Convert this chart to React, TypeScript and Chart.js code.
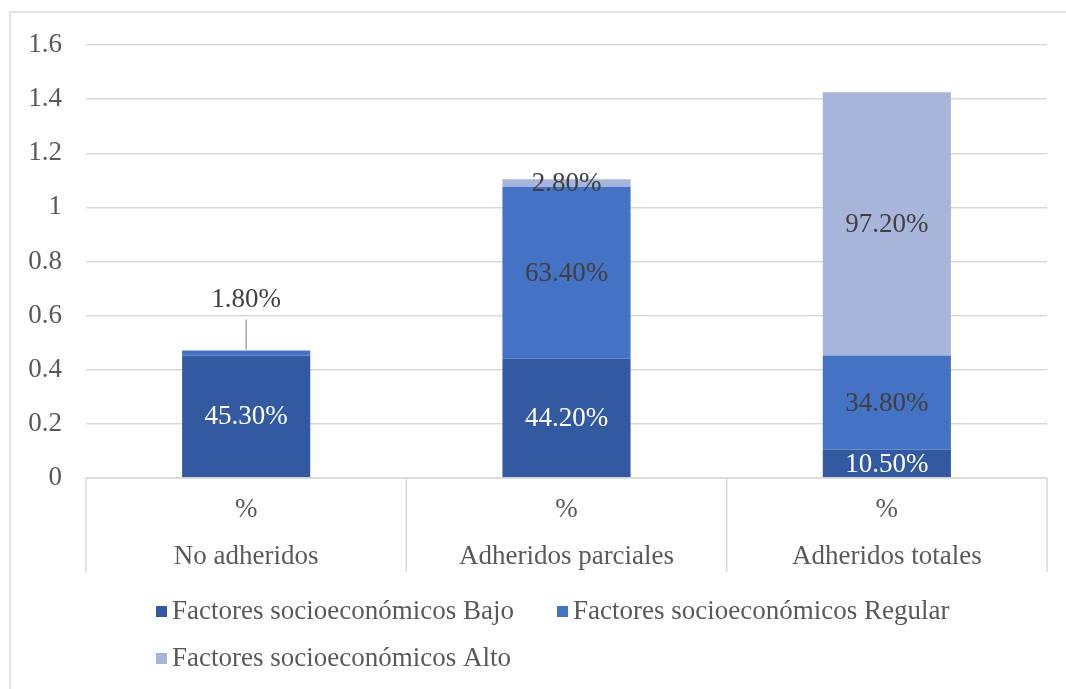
import React, { useEffect, useRef } from "react";
import { Chart, registerables } from "chart.js";

Chart.register(...registerables);

const categories = ["No adheridos", "Adheridos parciales", "Adheridos totales"];
const subLabel = "%";
const seriesNames = [
  "Factores socioeconómicos Bajo",
  "Factores socioeconómicos Regular",
  "Factores socioeconómicos Alto",
];
const bajo = [0.453, 0.442, 0.105];
const regular = [0.018, 0.634, 0.348];
const alto = [0, 0.028, 0.972];
const yMin = 0;
const yMax = 1.6;
const yStep = 0.2;

const seriesColors = ["#335AA0", "#4472C4", "#A7B5DB"];
const labelColors = ["#FFFFFF", "#404040", "#404040"];
const FONT = "'Liberation Serif', 'Times New Roman', serif";
const FS = 27;
const TEXT = "#595959";
const GRID = "#D9D9D9";

const fmtPct = (v: number) => (v * 100).toFixed(2) + "%";

const customPlugin = {
  id: "customDraw",
  beforeDraw(chart: any) {
    const ctx = chart.ctx;
    ctx.save();
    ctx.fillStyle = "#FFFFFF";
    ctx.fillRect(0, 0, chart.width, chart.height);
    ctx.strokeStyle = GRID;
    ctx.lineWidth = 1.5;
    ctx.strokeRect(10, 12, chart.width + 20, chart.height + 20);
    ctx.restore();
  },
  afterDatasetsDraw(chart: any) {
    const ctx = chart.ctx;
    const area = chart.chartArea;
    const xs = chart.scales.x;
    ctx.save();
    // x-axis box
    const step = xs.getPixelForValue(1) - xs.getPixelForValue(0);
    ctx.strokeStyle = GRID;
    ctx.lineWidth = 1.5;
    ctx.beginPath();
    ctx.moveTo(area.left, area.bottom);
    ctx.lineTo(area.right, area.bottom);
    for (let i = 0; i <= categories.length; i++) {
      const bx = xs.getPixelForValue(0) - step / 2 + i * step;
      ctx.moveTo(bx, area.bottom);
      ctx.lineTo(bx, area.bottom + 94);
    }
    ctx.stroke();
    ctx.fillStyle = TEXT;
    ctx.font = `${FS}px ${FONT}`;
    ctx.textAlign = "center";
    ctx.textBaseline = "middle";
    categories.forEach((c, i) => {
      const cx = xs.getPixelForValue(i);
      ctx.fillText(subLabel, cx, area.bottom + 32);
      ctx.fillText(c, cx, area.bottom + 79);
    });

    // data labels
    const n = chart.data.datasets.length;
    for (let d = 0; d < n; d++) {
      const meta = chart.getDatasetMeta(d);
      const vals = chart.data.datasets[d].data as number[];
      meta.data.forEach((el: any, i: number) => {
        const v = vals[i];
        if (!v) return;
        const top = Math.min(el.y, el.base);
        const bot = Math.max(el.y, el.base);
        const h = bot - top;
        let above = 0;
        for (let k = d + 1; k < n; k++) above += (chart.data.datasets[k].data[i] as number) || 0;
        ctx.font = `${FS}px ${FONT}`;
        if (h < 8 && above === 0 && d < n - 1) {
          ctx.strokeStyle = "#A6A6A6";
          ctx.lineWidth = 1.5;
          ctx.beginPath();
          ctx.moveTo(el.x, top - 1);
          ctx.lineTo(el.x, top - 31);
          ctx.stroke();
          ctx.fillStyle = "#404040";
          ctx.fillText(fmtPct(v), el.x, top - 51);
        } else {
          ctx.fillStyle = labelColors[d];
          ctx.fillText(fmtPct(v), el.x, (top + bot) / 2 + 1);
        }
      });
    }

    // legend
    const legendLeft = 156;
    const colX = [156, 557];
    const rowY = [area.bottom + 134, area.bottom + 181];
    ctx.textAlign = "left";
    seriesNames.forEach((name, i) => {
      const row = Math.floor(i / 2);
      const col = i % 2;
      const lx = row === 0 ? colX[col] : legendLeft;
      const ly = rowY[row];
      ctx.fillStyle = seriesColors[i];
      ctx.fillRect(lx, ly - 6, 11, 11);
      ctx.fillStyle = TEXT;
      ctx.fillText(name, lx + 16, ly);
    });
    ctx.restore();
  },
};

export default function App() {
  const ref = useRef<HTMLCanvasElement | null>(null);
  useEffect(() => {
    document.body.style.margin = "0";
    if (!ref.current) return;
    const chart = new Chart(ref.current, {
      type: "bar",
      data: {
        labels: categories,
        datasets: [
          { label: seriesNames[0], data: bajo, backgroundColor: seriesColors[0] },
          { label: seriesNames[1], data: regular, backgroundColor: seriesColors[1] },
          { label: seriesNames[2], data: alto, backgroundColor: seriesColors[2] },
        ].map((d) => ({ ...d, categoryPercentage: 1, barPercentage: 0.4, borderWidth: 0 })),
      },
      options: {
        animation: false,
        responsive: false,
        devicePixelRatio: 1,
        layout: { padding: { left: 0, right: 19, top: 45, bottom: 211 } },
        plugins: {
          legend: { display: false },
          tooltip: { enabled: false },
        },
        scales: {
          x: { display: false, stacked: true },
          y: {
            stacked: true,
            min: yMin,
            max: yMax,
            border: { display: false },
            grid: { color: GRID, lineWidth: 1.5, drawTicks: false },
            ticks: {
              stepSize: yStep,
              padding: 24,
              color: TEXT,
              font: { family: FONT, size: FS },
              callback: (v: any) => String(Math.round(Number(v) * 10) / 10),
            },
            afterFit: (s: any) => {
              s.width = 86;
            },
          },
        },
      },
      plugins: [customPlugin],
    });
    return () => chart.destroy();
  }, []);
  return (
    <div style={{ width: 1066, height: 689 }}>
      <canvas ref={ref} width={1066} height={689} style={{ display: "block" }} />
    </div>
  );
}
